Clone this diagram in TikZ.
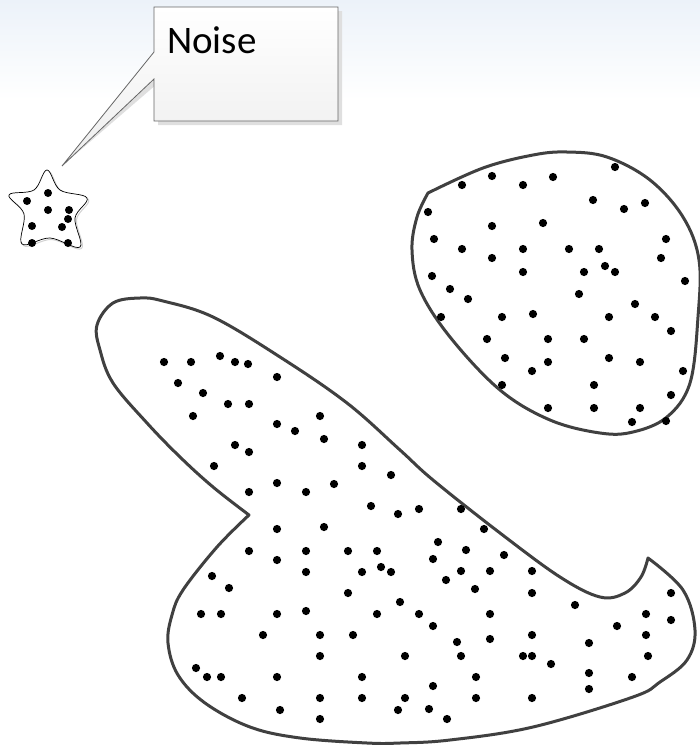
\documentclass[tikz,border=0pt]{standalone}
\usepackage{fontspec}
\setmainfont{Carlito}
\usepackage{xcolor}

\definecolor{outline}{HTML}{404040}
\definecolor{skytop}{HTML}{ECF2F9}

\tikzset{
  blob/.style={draw=outline, line width=3pt, line join=round, fill=white},
  calloutbox/.style={draw=black!60, line width=0.8pt, top color=white, bottom color=black!7},
  starline/.style={draw=black, line width=0.7pt, fill=white},
}

\begin{document}
\begin{tikzpicture}[x=1pt, y=-1pt]
        \useasboundingbox (0,0) rectangle (700,745);

        % 1. background, light at the top
        \shade[top color=skytop, bottom color=white] (0,0) rectangle (700,100);

        % 2. big cluster
        \draw[blob] plot[smooth, tension=0.6] coordinates {
            (249,515) (213,487) (180,457) (147,423) (113,383) (100,350) (97,325)
            (113,303) (140,298) (163,301) (213,317) (280,357) (347,403) (400,450)
            (433,480) (500,533) (560,577) (600,597) (625,593) (641,577) (648,558)}
          -- plot[smooth, tension=0.6] coordinates {
            (648,558) (683,590) (695,630) (687,660) (660,682) (633,697) (533,727)
            (450,740) (400,743) (367,743) (300,738) (250,727) (205,703) (178,675)
            (168,643) (172,615) (183,590) (217,547) (249,515)}
          -- cycle;

        % 3. right cluster
        \draw[blob] plot[smooth, tension=0.6] coordinates {
            (428,193) (483,168) (533,155) (567,152) (607,157) (650,180) (683,217)
            (699,260) (698,317) (690,383) (667,417) (633,432) (600,433) (550,420)
            (500,390) (450,337) (420,290) (412,250) (417,217) (428,193)}
          -- cycle;

        % 4. noise star
        \draw[gray!35, line width=1pt, shift={(1.5,1.5)}] plot[smooth cycle, tension=0.6] coordinates {
            (47,170) (60,190) (87,198) (75,218) (80,247) (50,238) (22,244) (24,214) (9,195) (34,190)};
        \draw[starline] plot[smooth cycle, tension=0.6] coordinates {
            (47,170) (60,190) (87,198) (75,218) (80,247) (50,238) (22,244) (24,214) (9,195) (34,190)};

        % 5. points
        \foreach \x/\y in {48/193, 27/201, 48/210, 69/210, 68/219, 32/226, 62/227, 32/243, 68/243} {
            \fill (\x,\y) circle (4);
        }
        \foreach \x/\y in {615/167, 492/176, 462/185, 523/185, 553/177, 593/200, 624/209, 645/203,
                           428/212, 492/226, 543/223, 434/239, 666/239, 462/249, 523/249, 569/249,
                           599/249, 492/258, 661/258, 432/276, 523/272, 584/272, 605/266, 615/272,
                           685/281, 450/289, 468/299, 579/294, 635/304, 441/317, 502/317, 533/314,
                           609/317, 655/317, 671/331, 487/339, 548/339, 584/339, 505/358, 548/362,
                           609/358, 640/362, 683/371, 532/371, 502/385, 594/385, 671/395, 548/408,
                           594/408, 640/408, 632/422, 666/421} {
            \fill (\x,\y) circle (4.1);
        }
        \foreach \x/\y in {164/362, 191/362, 220/356, 235/362, 248/364, 277/377, 178/383, 203/393,
                           228/404, 249/404, 193/416, 320/416, 277/424, 295/431, 324/439, 362/445,
                           235/445, 249/452, 214/466, 362/466, 391/475, 277/483, 306/492, 334/484,
                           249/492, 371/506, 398/514, 277/529, 324/527, 419/509, 438/542, 249/551,
                           277/560, 306/551, 348/551, 377/551, 433/559, 306/572, 362/572, 381/567,
                           391/572, 446/580, 212/576, 229/588, 348/593, 400/602, 201/614, 221/614,
                           277/614, 306/611, 377/614, 419/614, 433/626, 263/635, 320/635, 353/635,
                           320/656, 405/656, 196/668, 207/677, 221/677, 277/677, 362/677, 433/686,
                           242/698, 320/698, 362/698, 405/698, 280/710, 398/710, 429/709, 320/719,
                           447/719, 461/509, 484/529, 466/550, 504/555, 461/571, 490/571, 532/571,
                           475/589, 532/593, 490/614, 575/605, 671/593, 671/620, 646/614, 617/626,
                           646/635, 532/635, 490/639, 457/642, 589/643, 461/656, 523/656, 532/656,
                           551/664, 648/656, 589/673, 476/677, 632/677, 589/689, 476/698, 532/698} {
            \fill (\x,\y) circle (4.1);
        }

        % 6. callout
        \coordinate (tip) at (62,166);
        \fill[gray!25, shift={(4,4)}]
            (154,7) -- (338,7) -- (338,121) -- (154,121) -- (154,79) -- (tip) -- (154,52) -- cycle;
        \draw[calloutbox]
            (154,7) -- (338,7) -- (338,121) -- (154,121) -- (154,79) -- (tip) -- (154,52) -- cycle;
        \node[anchor=base west, inner sep=0pt, font=\fontsize{39}{44}\selectfont] (noise) at (167,53) {Noise};

    \end{tikzpicture}
\end{document}
